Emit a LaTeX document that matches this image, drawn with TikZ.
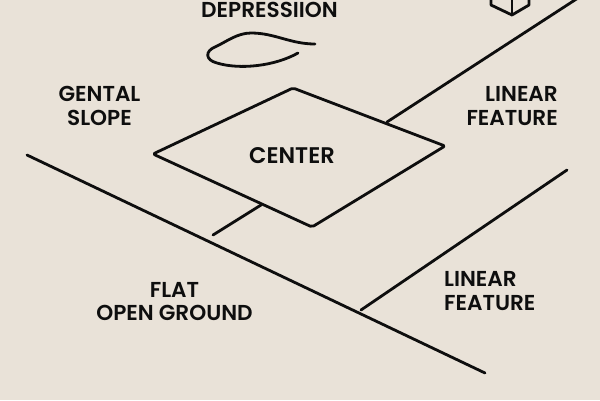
\documentclass[tikz,border=0pt]{standalone}
\usepackage{fontspec}
\setmainfont{Poppins}[UprightFont=* SemiBold]
\definecolor{paper}{RGB}{233,226,216}
\definecolor{ink}{RGB}{14,14,14}
\tikzset{
 x=1pt,y=-1pt,
 ln/.style={draw=ink,line width=2.8pt,line cap=round,line join=round},
 lab/.style={text=ink,font=\fontsize{21.6}{23.5}\selectfont,inner sep=0pt},
}
\begin{document}
\begin{tikzpicture}
\path[use as bounding box,fill=paper] (0,0) rectangle (600,400);
\clip (0,0) rectangle (600,400);
% centre diamond
\node[lab,align=center,font=\fontsize{22.6}{24}\selectfont] (center) at (292,155.5) {CENTER};
\draw[ln,rounded corners=2pt] (293,88) -- (445,146) -- (312,227) -- (153,154) -- cycle;
\coordinate (d1) at (387,122);
\coordinate (d2) at (261,205);
\coordinate (e1) at (578,-2);
\coordinate (e2) at (213,235);
\draw[ln] (d1) -- (e1);
\draw[ln] (d2) -- (e2);
% main line
\coordinate (m1) at (27,155);
\coordinate (m2) at (485,373);
\coordinate (m3) at (361,310);
\coordinate (m4) at (567,170);
\draw[ln] (m1) -- (m2);
\draw[ln] (m3) -- (m4);
% depression
\draw[ln] (315,44) .. controls (290,44) and (275,33) .. (251,33) .. controls (237,33) and (226,42) .. (215,47) .. controls (205,51) and (205,60) .. (217,63) .. controls (240,70) and (275,66) .. (298,53);
% cube
\draw[ln] (491,-2) -- (491,5) -- (512,15) -- (529,5) -- (529,-2);
\draw[ln] (512,-2) -- (512,15);
% labels
\node[lab,align=center] (dep) at (269.5,9.5) {DEPRESSIION};
\node[lab,align=center] (gen) at (99.5,106) {GENTAL\\SLOPE};
\node[lab,align=right,anchor=east] (lin1) at (558,106) {LINEAR\\FEATURE};
\node[lab,align=left,anchor=west] (lin2) at (444,291) {LINEAR\\FEATURE};
\node[lab,align=center] (flat) at (174.5,301.5) {FLAT\\OPEN GROUND};
\end{tikzpicture}
\end{document}
